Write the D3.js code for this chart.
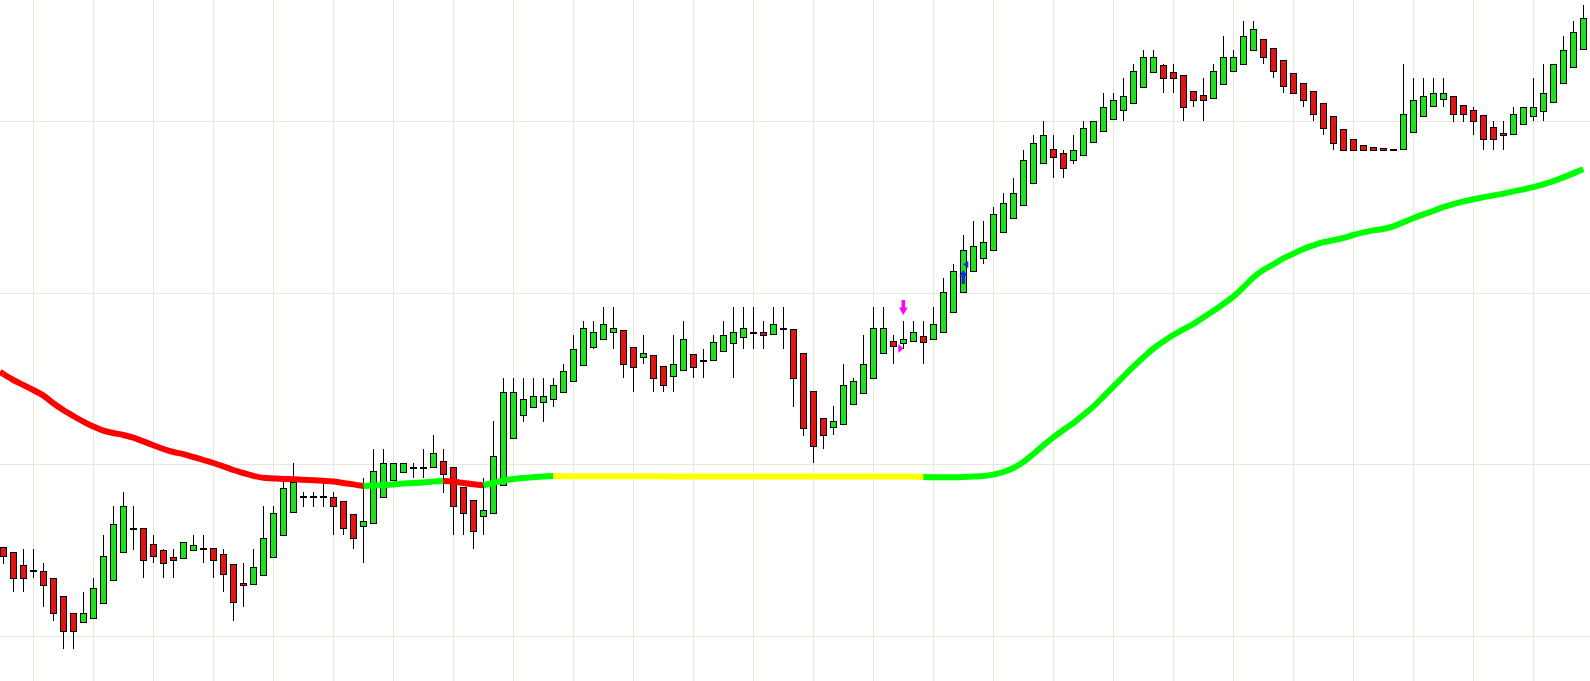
<!DOCTYPE html>
<html><head><meta charset="utf-8">
<script src="https://cdn.jsdelivr.net/npm/d3@7"></script>
<style>html,body{margin:0;padding:0;background:#fff;overflow:hidden}</style>
</head><body><svg id="chart" width="1590" height="681"></svg>
<script>
// ---- DATA ----
const opens = [
166.9,164.4,157.9,155.2,154.9,151.4,142.7,133.9,129.4,131.4,
138.9,150.4,164.4,176,176.4,168.4,165.4,161.9,161.4,165.4,
166,166.4,163.4,158.4,148.9,148.4,152.9,161.9,172.9,184.4,
192.2,192.2,192.2,192.2,189.9,183.4,177.4,178.9,191.9,200.5,
204.4,206.7,206.7,206.9,210.2,206.9,196.9,190.4,182.4,183.9,
198,221.4,232.9,236.9,239.4,240.9,244.4,249.9,257.9,266.9,
270.9,274.4,275.4,266.9,261.9,262.9,257.4,252.4,255.4,263.4,
260.2,260.4,264.9,268.9,271.9,274.2,274.4,273.4,276,275.9,
263.9,244.9,231.4,226.9,228.4,238.4,243.9,251.4,263.9,269.9,
268.9,269.9,272.4,270.9,274.4,284.4,294.4,304.9,311.4,315.4,
324.4,331.4,337.9,348.9,358.9,365.9,363.9,360.4,362.9,369.4,
374.9,380.9,385.4,388.9,396.9,404.4,407.9,404.4,402.9,394.9,
392.9,391.4,398.4,404.9,408.4,415.4,420.9,416.4,410.4,403.9,
398.9,394.9,388.9,382.4,375.9,370.9,367.9,366.9,366.4,365.9,
365.9,374.4,382.4,387.4,390.9,392.4,387.9,385.4,382.9,376.9,
373.9,373.4,378.4,382.4,384.9,389.4,398.9,406.9,415.9];
const highs = [
166.9,164.4,166,166,158.9,151.4,142.7,133.9,144.4,151.4,
173,187.5,194.4,187.5,176.4,173,165.9,165.9,169.4,173,
173,166.4,165.9,158.4,158.9,165.9,187.5,187.5,199.7,208.9,
194.7,194.7,201.4,194.7,189.9,183.4,201.4,215.9,215.9,208.9,
208.9,208.9,215.9,223,215.9,206.9,196.9,190.4,201.4,230,
251.5,251.5,251.5,251.5,251.5,251.5,258.5,273,280,280,
287,287,275.4,266.9,272.9,262.9,257.4,272.9,280,263.4,
265.9,272.9,280,287,287,287,280,287,287,275.9,
263.9,244.9,231.4,237.4,258.5,251.4,272.9,287,287,272.9,
280,280,280,287,301.4,308.5,323,330,330,336.9,
343.9,351.4,365.5,373,380,373,365.5,373,380,379.9,
393.9,393.9,401.4,408.4,415.4,415.4,408.4,408.4,402.9,394.9,
401.4,408.4,422.4,415.4,429.9,429.9,420.9,416.4,410.4,403.9,
398.9,394.9,388.9,382.4,375.9,370.9,367.9,366.9,366.4,365.9,
408.4,401.4,401.4,401.4,401.4,392.4,387.9,386.9,382.9,379.9,
379.9,386.9,386.9,401.4,408.4,408.4,422.4,429.9,438];
const lows = [
158.5,144.4,144.4,151.4,137.2,130.2,115.9,115.9,129.4,131.4,
138.9,150.4,164.4,165.5,151.4,158.9,151.4,151.4,161.4,165.4,
158.9,151.4,144.4,130.2,137.2,148.4,152.9,161.9,172.9,184.4,
187.2,187.2,187.2,172.9,172.9,165.9,158.9,178.9,191.9,200.5,
204.4,201.4,201.4,206.9,194.2,172.9,172.9,165.9,172.9,183.9,
198,221.4,229.7,236.9,229.7,237.2,244.4,249.9,257.9,265.9,
270.9,265.9,251.4,244.4,258.4,244.4,244.4,244.4,255.4,251.4,
251.4,260.4,264.9,251.4,265.9,265.9,265.9,273.4,265.9,237.2,
222.7,208.9,215.9,222.9,228.4,238.4,243.9,251.4,263.9,258.4,
265.9,269.9,258.4,270.9,274.4,284.4,294.4,304.9,308.4,315.4,
324.4,331.4,337.9,348.9,358.9,351.4,351.4,358.4,362.9,369.4,
374.9,380.9,379.9,388.9,396.9,404.4,393.9,393.9,379.9,386.9,
379.9,391.4,398.4,404.9,408.4,415.4,408.4,401.4,393.9,393.9,
386.9,379.9,372.9,365.4,365.4,365.4,365.4,365.4,365.4,365.4,
365.4,374.4,382.4,386.9,386.9,379.7,379.7,372.9,365.4,365.4,
365.4,373.4,378.4,379.9,379.9,389.4,398.9,406.9,415.9];
const closes = [
162.4,151.4,151.4,155.2,147.9,133.9,124.9,124.9,133.9,146.4,
162.4,178.5,187.5,176,160.4,162.4,158.9,160.4,169.4,167.9,
166,160.4,153.4,139.4,147.9,156.9,171.4,183.9,196.4,199.7,
192.2,192.2,192.2,187.5,176.4,171.4,179.9,204.9,208.9,208.9,
208.9,206.7,206.7,213.9,203.4,187.5,183.9,174.9,185.4,212.4,
244.4,244.4,240.9,242.4,242.4,247.9,254.9,265.9,276.4,274.4,
278.4,276.4,258.4,256.9,263.9,251.4,247.9,258.4,270.9,256.9,
260.2,269.4,272.9,274.4,276.4,274.2,272.9,278.4,276,251.4,
226.4,217.4,222.9,229.9,247.9,249.9,258.4,276.4,276.4,267.4,
270.9,274.4,269.4,278.4,294.4,304.9,315.4,317.4,319.4,333.4,
338.9,343.9,360.4,368.9,373,361.9,356.4,365.4,376.4,379.9,
386.9,390.4,392.4,404.9,411.9,411.9,401.4,401.4,386.9,390.4,
390.4,404.9,411.9,411.9,422.4,425.9,411.9,404.9,397.4,393.9,
390.4,383.4,376.4,368.9,365.4,365.4,365.4,365.4,365.4,365.4,
383.4,390.4,392.4,393.9,393.9,383.4,383.4,379.9,370.9,370.9,
372.9,383.4,386.9,386.9,393.9,408.4,415.4,424.4,431.4];
const maValues = [
253.5,250.5,248,245.5,242.7,238.9,235.5,232.5,229.7,227.2,
225.2,224,223,221.7,219.8,217.9,216,214.5,213.4,212,
210.5,209,207.3,205.5,204,202.6,201.6,201.3,201,200.9,
200.6,200.4,200.1,199.7,199,198.3,197.5,197.8,198,198.3,
198.8,199,199.3,199.7,200,199.7,199,198.4,197.9,199,
200.3,201,201.5,201.9,202.2,202.5,202.4,202.4,202.4,202.4,
202.4,202.4,202.4,202.4,202.4,202.4,202.3,202.3,202.3,202.3,
202.3,202.3,202.3,202.3,202.3,202.3,202.3,202.3,202.3,202.3,
202.3,202.3,202.2,202.2,202.2,202.2,202.2,202.2,202.2,202.2,
202.2,202.2,202,201.9,201.9,201.9,202,202.2,202.5,203.2,
204.5,206.5,209.5,213.5,217.8,221.8,225.5,228.9,233,237.2,
242.2,247.2,252.2,257.2,261.8,266.2,269.8,273,275.8,278.5,
281.8,285,288.5,292.2,296.8,301.8,305.5,308.3,311.3,313.6,
316,317.8,319.4,320.4,321.5,323,324.3,325.3,326,327.3,
329.4,331.4,333.3,335,336.9,338.4,339.8,340.9,341.8,342.8,
343.7,344.8,345.8,346.9,348.3,349.9,351.8,353.8,355.9];
// trend state of the average, from the candle index where it starts
const maRunStart = [0, 36, 44, 48, 55, 92];
const maRunState = ['down', 'up', 'down', 'up', 'flat', 'up'];
// price levels of the horizontal grid
const gridPrices = [122.75, 208.5, 294.25, 380];
// signal markers
const signalIndex = [90, 90, 96, 96];
const signalPrice = [283, 266.25, 305.5, 308.25];
const signalKind = ['sellArrow', 'sellMark', 'buyArrow', 'buyMark'];

// ---- STYLE ----
const W = 1590, H = 681;
const candleUp = '#1ee01e', candleDown = '#e31414', outline = '#000';
const maColor = {down: '#ff0000', up: '#00ff00', flat: '#ffff00'};
const gridColor = '#eae8d8';
const signalShape = {
  sellArrow: {d: 'M-1.8,-15H1.8V-7.5H4.3L0,0L-4.3,-7.5H-1.8Z', fill: '#ff00ff'},
  sellMark:  {d: 'M0,0L-5,-4.5L-5,4.5Z', fill: '#ff00ff'},
  buyArrow:  {d: 'M-1.6,14H1.6V6H4L0,0L-4,6H-1.6Z', fill: '#1428e6'},
  buyMark:   {d: 'M0,0L5,-3.8L5,3.8Z', fill: '#1428e6'}
};

const svg = d3.select('#chart');
svg.append('rect').attr('width', W).attr('height', H).attr('fill', '#fff');

const n = opens.length;
const idx = d3.range(n);
const x = d3.scaleLinear().domain([0, n - 1]).range([3.33, 1583.33]);
const y = d3.scaleLinear().domain([100, 440.5]).range([H, 0]);
const crisp = v => Math.round(v) + 0.5;

// grid
const grid = svg.append('g');
grid.selectAll('line.v').data(idx.filter(i => i % 6 === 3)).join('line')
  .attr('x1', i => crisp(x(i))).attr('x2', i => crisp(x(i)))
  .attr('y1', 0).attr('y2', H)
  .attr('stroke', gridColor).attr('stroke-width', 1);
grid.selectAll('line.h').data(gridPrices).join('line')
  .attr('x1', 0).attr('x2', W)
  .attr('y1', p => crisp(y(p))).attr('y2', p => crisp(y(p)))
  .attr('stroke', gridColor).attr('stroke-width', 1);

// candles
const cg = svg.append('g');
const c = cg.selectAll('g').data(idx).join('g');
c.append('line')
  .attr('x1', i => crisp(x(i))).attr('x2', i => crisp(x(i)))
  .attr('y1', i => Math.round(y(highs[i]))).attr('y2', i => Math.round(y(lows[i])))
  .attr('stroke', outline).attr('stroke-width', 1);
c.filter(i => opens[i] !== closes[i]).append('rect')
  .attr('x', i => crisp(x(i)) - 3)
  .attr('width', 6)
  .attr('y', i => crisp(y(Math.max(opens[i], closes[i]))))
  .attr('height', i => Math.max(1, Math.round(y(Math.min(opens[i], closes[i]))) - Math.round(y(Math.max(opens[i], closes[i])))))
  .attr('fill', i => closes[i] > opens[i] ? candleUp : candleDown)
  .attr('stroke', outline).attr('stroke-width', 1);
c.filter(i => opens[i] === closes[i]).append('line')
  .attr('x1', i => crisp(x(i)) - 3.5).attr('x2', i => crisp(x(i)) + 3.5)
  .attr('y1', i => Math.round(y(opens[i]))).attr('y2', i => Math.round(y(opens[i])))
  .attr('stroke', outline).attr('stroke-width', 2);

// moving average, coloured by trend
const maLine = d3.line().x(i => x(i)).y(i => y(maValues[i])).curve(d3.curveMonotoneX);
const mg = svg.append('g');
maRunStart.forEach((s, k) => {
  const e = k + 1 < maRunStart.length ? maRunStart[k + 1] : n - 1;
  mg.append('path').datum(d3.range(s, e + 1))
    .attr('d', maLine)
    .attr('fill', 'none')
    .attr('stroke', maColor[maRunState[k]])
    .attr('stroke-width', 6)
    .attr('stroke-linejoin', 'round')
    .attr('stroke-linecap', 'butt');
});
// the average continues off the left edge
mg.append('line')
  .attr('x1', 0).attr('x2', x(0))
  .attr('y1', y(maValues[0]) - 2.2).attr('y2', y(maValues[0]))
  .attr('stroke', maColor[maRunState[0]]).attr('stroke-width', 6);

// signals
svg.append('g').selectAll('path').data(d3.range(signalIndex.length)).join('path')
  .attr('transform', k => `translate(${x(signalIndex[k])},${y(signalPrice[k])})`)
  .attr('d', k => signalShape[signalKind[k]].d)
  .attr('fill', k => signalShape[signalKind[k]].fill);
</script>
</body></html>
